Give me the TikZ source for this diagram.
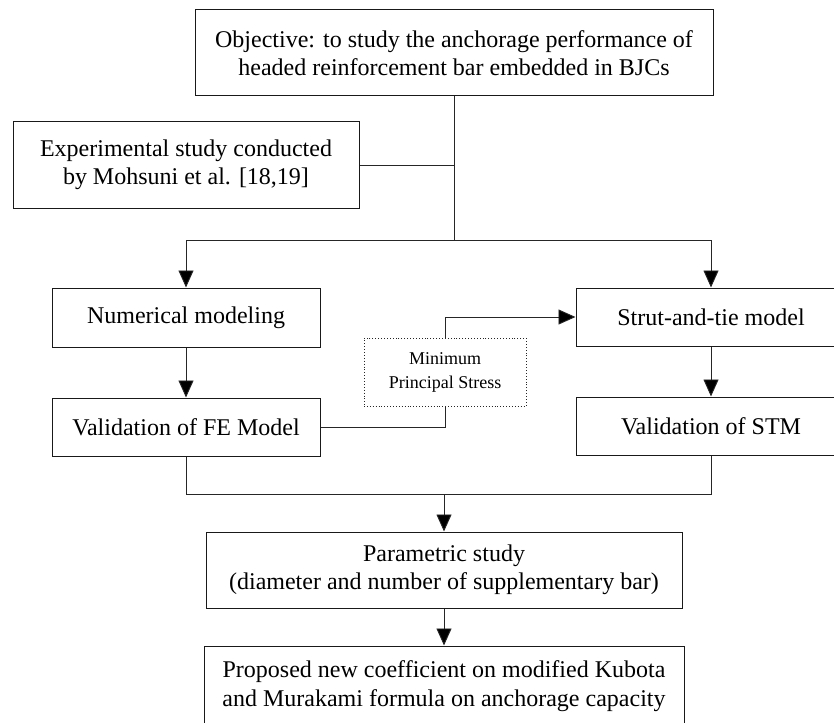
\documentclass[tikz,border=0pt]{standalone}
\usepackage{fontspec}
\setmainfont{Liberation Serif}
\usetikzlibrary{arrows.meta}
\begin{document}
\begin{tikzpicture}[x=1pt,y=-1pt,
  box/.style={draw=black!90, line width=1pt, rectangle, inner sep=0pt, align=center, font=\fontsize{24}{28.5}\selectfont},
  dotbox/.style={draw=black!85, dotted, line width=0.9pt, rectangle, inner sep=0pt, align=center, font=\fontsize{18}{24}\selectfont},
  conn/.style={draw=black!85, line width=0.9pt},
  arr/.style={conn, -{Triangle[length=17pt,width=15pt,fill=black]}}]
\useasboundingbox (0,0) rectangle (834,722);
\node[box, minimum width=518pt, minimum height=86pt] (obj) at (454,53) {Objective: to study the anchorage performance of\\headed reinforcement bar embedded in BJCs};
\node[box, minimum width=346pt, minimum height=86pt] (exp) at (186,165) {Experimental study conducted\\by Mohsuni et al. [18,19]};
\node[box, minimum width=268pt, minimum height=59pt] (num) at (186,317.5) {Numerical modeling};
\node[box, minimum width=268pt, minimum height=58pt] (vfe) at (186,427) {Validation of FE Model};
\node[box, minimum width=270pt, minimum height=58pt] (stm) at (711,317) {Strut-and-tie model};
\node[box, minimum width=270pt, minimum height=58pt] (vstm) at (711,426) {Validation of STM};
\node[dotbox, minimum width=162pt, minimum height=68pt] (mps) at (445,372) {Minimum\\Principal Stress};
\node[box, minimum width=476pt, minimum height=76pt] (par) at (444,570) {Parametric study\\(diameter and number of supplementary bar)};
\node[box, minimum width=480pt, minimum height=80pt] (prop) at (444,686) {Proposed new coefficient on modified Kubota\\and Murakami formula on anchorage capacity};
\coordinate (jn) at (454,240);
\coordinate (jb) at (444,494);
\draw[conn] (obj.south) -- (jn);
\draw[conn] (exp.east) -- (exp.east -| jn);
\draw[arr] (jn) -| (num.north);
\draw[arr] (jn) -| (stm.north);
\draw[arr] (num.south) -- (vfe.north);
\draw[arr] (stm.south) -- (vstm.north);
\draw[arr] (mps.north) |- (stm.west);
\draw[conn] (mps.south) |- (vfe.east);
\draw[conn] (vfe.south) -- (vfe.south |- jb) -- (vstm.south |- jb) -- (vstm.south);
\draw[arr] (jb) -- (par.north);
\draw[arr] (par.south) -- (prop.north);
\end{tikzpicture}
\end{document}
